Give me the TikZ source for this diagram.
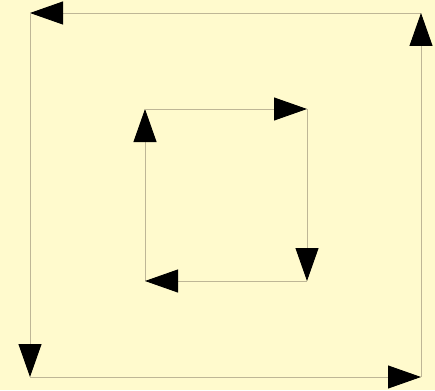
\documentclass[tikz,border=0pt]{standalone}
\usepackage{tikz}
\usepackage{xcolor}
\usetikzlibrary{arrows.meta}

\definecolor{bgyellow}{RGB}{255,250,205}
\definecolor{edgegray}{RGB}{190,182,150}

\tikzset{
  flow/.style={draw=edgegray, line width=0.9pt, -{Triangle[length=33pt, width=23pt, fill=black, color=black]}},
}

\begin{document}
\begin{tikzpicture}[x=1pt, y=-1pt]
\fill[bgyellow] (0,0) rectangle (435,390);
\useasboundingbox (0,0) rectangle (435,390);

% outer loop
\coordinate (OTL) at (30,13);
\coordinate (OTR) at (421,13);
\coordinate (OBR) at (421,377);
\coordinate (OBL) at (30,377);

% inner loop
\coordinate (ITL) at (145,109);
\coordinate (ITR) at (307,109);
\coordinate (IBR) at (307,281);
\coordinate (IBL) at (145,281);

\draw[flow] (OTR) -- (OTL);
\draw[flow] (OTL) -- (OBL);
\draw[flow] (OBL) -- (OBR);
\draw[flow] (OBR) -- (OTR);

\draw[flow] (IBL) -- (ITL);
\draw[flow] (ITL) -- (ITR);
\draw[flow] (ITR) -- (IBR);
\draw[flow] (IBR) -- (IBL);
\end{tikzpicture}
\end{document}
